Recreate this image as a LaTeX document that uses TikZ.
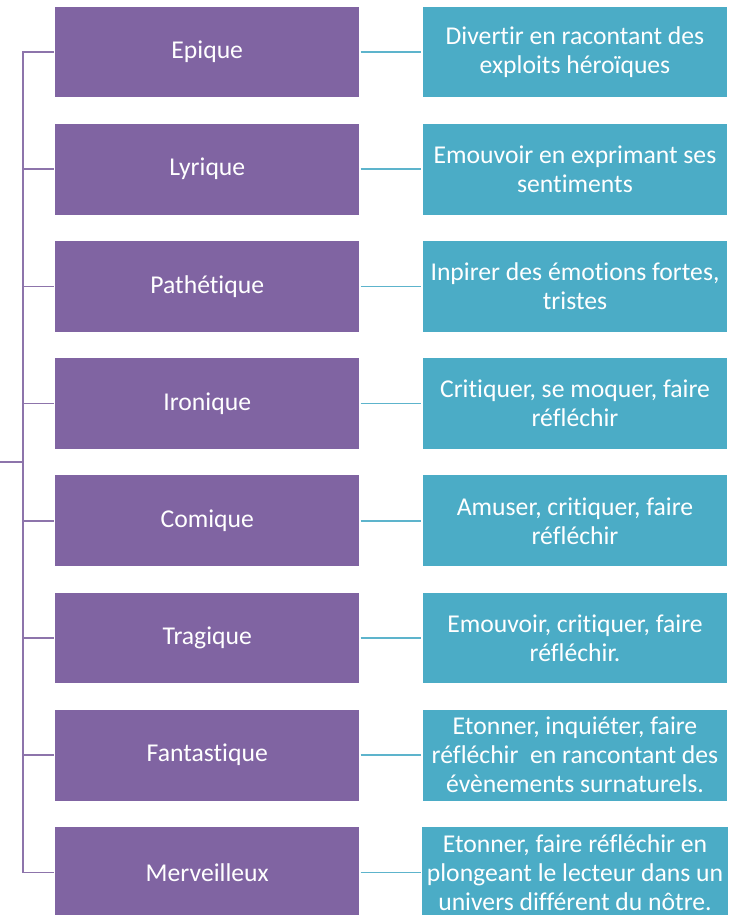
\documentclass[tikz,border=0pt]{standalone}
\usepackage{fontspec}
\setmainfont[Ligatures={NoCommon}]{Carlito}
\usepackage{tikz}
\usetikzlibrary{positioning}

\tikzset{
  registre/.style={fill=violet, draw=white, line width=0.6pt, minimum width=6.11cm, minimum height=1.84cm, text=white, align=center, font=\fontsize{14.6}{16.5}\selectfont},
  effet/.style={fill=turquoise, draw=white, line width=0.6pt, minimum width=6.12cm, minimum height=1.84cm, text=white, align=center, font=\fontsize{14.6}{16.5}\selectfont},
  branche/.style={draw=violet!90, line width=1pt},
  lien/.style={draw=turquoise!90, line width=1pt}
}

\begin{document}
\begin{tikzpicture}
% --- COULEURS DU SCHEMA ---
\definecolor{violet}{HTML}{8064A2}
\definecolor{turquoise}{HTML}{4BACC6}

\useasboundingbox (0,0) rectangle (14.8,-18.3);

% Colonne 1: registres
\node[registre] (epique)      at (4.145,-1.04)   {Epique};
\node[registre] (lyrique)     at (4.145,-3.384)  {Lyrique};
\node[registre] (pathetique)  at (4.145,-5.728)  {Pathétique};
\node[registre] (ironique)    at (4.145,-8.072)  {Ironique};
\node[registre] (comique)     at (4.145,-10.416) {Comique};
\node[registre] (tragique)    at (4.145,-12.76)  {Tragique};
\node[registre] (fantastique) at (4.145,-15.104) {Fantastique};
\node[registre] (merveilleux) at (4.145,-17.448) {Merveilleux};

% Colonne 2: effets recherches
\node[effet] (epiqueEff)      at (11.5,-1.04)   {Divertir en racontant des\\exploits héroïques};
\node[effet] (lyriqueEff)     at (11.5,-3.384)  {Emouvoir en exprimant ses\\sentiments};
\node[effet] (patheticEff)    at (11.5,-5.728)  {Inpirer des émotions fortes,\\tristes};
\node[effet] (ironiqueEff)    at (11.5,-8.072)  {Critiquer, se moquer, faire\\réfléchir};
\node[effet] (comiqueEff)     at (11.5,-10.416) {Amuser, critiquer, faire\\réfléchir};
\node[effet] (tragiqueEff)    at (11.5,-12.76)  {Emouvoir, critiquer, faire\\réfléchir.};
\node[effet] (fantastiqueEff) at (11.5,-15.104) {Etonner, inquiéter, faire\\réfléchir\ \ en rancontant des\\évènements surnaturels.};
\node[effet] (merveilleuxEff) at (11.5,-17.448) {Etonner, faire réfléchir en\\plongeant le lecteur dans un\\univers différent du nôtre.};

% Arborescence a gauche
\coordinate (racine) at (0,-9.244);
\coordinate (tronc) at (0.46,-9.244);
\draw[branche] (racine) -- (tronc) |- (epique.west);
\draw[branche] (tronc) |- (lyrique.west);
\draw[branche] (tronc) |- (pathetique.west);
\draw[branche] (tronc) |- (ironique.west);
\draw[branche] (tronc) |- (comique.west);
\draw[branche] (tronc) |- (tragique.west);
\draw[branche] (tronc) |- (fantastique.west);
\draw[branche] (tronc) |- (merveilleux.west);

% Liens registre -> effet
\draw[lien] (epique) -- (epiqueEff);
\draw[lien] (lyrique) -- (lyriqueEff);
\draw[lien] (pathetique) -- (patheticEff);
\draw[lien] (ironique) -- (ironiqueEff);
\draw[lien] (comique) -- (comiqueEff);
\draw[lien] (tragique) -- (tragiqueEff);
\draw[lien] (fantastique) -- (fantastiqueEff);
\draw[lien] (merveilleux) -- (merveilleuxEff);
\end{tikzpicture}
\end{document}
